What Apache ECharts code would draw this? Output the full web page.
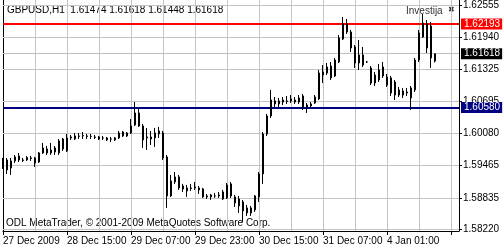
<!DOCTYPE html>
<html><head><meta charset="utf-8">
<script src="https://cdn.jsdelivr.net/npm/echarts@6/dist/echarts.min.js"></script>
<style>html,body{margin:0;padding:0;background:#fff}#c{width:503px;height:250px}</style>
</head><body><div id="c"></div>
<script>
const opens = [1.59528,1.59567,1.59413,1.59548,1.59644,1.59567,1.59567,1.59606,1.59606,1.59528,
1.59702,1.59779,1.59702,1.59799,1.59702,1.59972,1.59741,1.59992,1.59972,1.60021,
1.60030,1.60030,1.60021,1.60011,1.60011,1.59992,1.59992,1.59972,1.59953,1.59992,
1.60107,1.60030,1.60088,1.60242,1.60474,1.60223,1.59992,1.60011,1.59992,1.60069,
1.60088,1.59625,1.58872,1.59142,1.59239,1.59065,1.58969,1.59027,1.59027,1.59027,
1.59007,1.58872,1.58853,1.58872,1.58872,1.58814,1.58834,1.59104,1.58853,1.58814,
1.58756,1.58641,1.58544,1.58602,1.58853,1.59297,1.60069,1.60416,1.60706,1.60648,
1.60686,1.60706,1.60706,1.60725,1.60686,1.60802,1.60590,1.60609,1.60667,1.60744,
1.61207,1.61246,1.61381,1.61497,1.61458,1.61902,1.62192,1.62037,1.61748,1.61439,
1.61593,1.61458,1.61343,1.61207,1.61111,1.61188,1.61169,1.61150,1.61072,1.60821,
1.60821,1.60879,1.60957,1.60918,1.61497,1.61941,1.62192,1.62153,1.61474];
const closes = [1.59432,1.59374,1.59548,1.59625,1.59567,1.59557,1.59615,1.59596,1.59509,1.59702,
1.59799,1.59702,1.59760,1.59721,1.59934,1.59779,1.59992,1.60011,1.60030,1.60030,
1.60040,1.60021,1.60022,1.60001,1.59972,1.59990,1.59953,1.59970,1.59992,1.60088,
1.60030,1.60088,1.60223,1.60474,1.60223,1.59953,1.60011,1.59972,1.60088,1.60127,
1.59606,1.58872,1.59162,1.59239,1.59027,1.59007,1.59027,1.59017,1.59046,1.58988,
1.58853,1.58853,1.58891,1.58870,1.58891,1.58949,1.59084,1.58872,1.58737,1.58679,
1.58583,1.58544,1.58641,1.58872,1.59297,1.60069,1.60416,1.60725,1.60648,1.60706,
1.60725,1.60696,1.60744,1.60686,1.60764,1.60590,1.60628,1.60648,1.60783,1.61246,
1.61265,1.61362,1.61150,1.61188,1.61922,1.62192,1.62037,1.61729,1.61439,1.61593,
1.61400,1.61458,1.61053,1.61053,1.61304,1.61362,1.61014,1.60860,1.60821,1.60918,
1.60899,1.60860,1.60764,1.61497,1.62018,1.62211,1.61729,1.61536,1.61618];
const lows = [1.59393,1.59297,1.59277,1.59509,1.59528,1.59528,1.59548,1.59548,1.59432,1.59509,
1.59683,1.59663,1.59663,1.59663,1.59663,1.59741,1.59721,1.59953,1.59953,1.59972,
1.59972,1.59972,1.59972,1.59972,1.59953,1.59953,1.59934,1.59914,1.59934,1.59972,
1.60011,1.60011,1.60069,1.60223,1.60204,1.59799,1.59760,1.59856,1.59818,1.59992,
1.59567,1.58641,1.58853,1.59104,1.58988,1.58949,1.58853,1.58969,1.58988,1.58911,
1.58834,1.58814,1.58795,1.58834,1.58834,1.58795,1.58814,1.58834,1.58660,1.58544,
1.58370,1.58486,1.58486,1.58563,1.58756,1.59104,1.60030,1.60378,1.60571,1.60590,
1.60628,1.60648,1.60667,1.60648,1.60648,1.60532,1.60474,1.60571,1.60648,1.60725,
1.61053,1.61207,1.61111,1.61169,1.61439,1.61883,1.61999,1.61651,1.61343,1.61304,
1.61362,1.61439,1.61014,1.60995,1.61072,1.61150,1.60976,1.60802,1.60725,1.60783,
1.60764,1.60802,1.60532,1.60879,1.61458,1.61922,1.61632,1.61343,1.61448];
const highs = [1.59606,1.59606,1.59606,1.59663,1.59702,1.59606,1.59644,1.59644,1.59625,1.59721,
1.59895,1.59837,1.59895,1.59837,1.59972,1.59992,1.60069,1.60049,1.60088,1.60088,
1.60107,1.60069,1.60069,1.60049,1.60030,1.60030,1.60011,1.60011,1.60011,1.60127,
1.60127,1.60107,1.60358,1.60686,1.60571,1.60262,1.60185,1.60127,1.60185,1.60204,
1.60127,1.59663,1.59277,1.59335,1.59277,1.59104,1.59084,1.59104,1.59142,1.59065,
1.59027,1.58911,1.58911,1.58930,1.58949,1.58988,1.59123,1.59142,1.58891,1.58872,
1.58795,1.58698,1.58679,1.58891,1.59335,1.60107,1.60455,1.60918,1.60783,1.60764,
1.60783,1.60802,1.60821,1.60783,1.60821,1.60841,1.60667,1.60686,1.60821,1.61304,
1.61400,1.61439,1.61458,1.61536,1.61979,1.62327,1.62288,1.62076,1.61786,1.61883,
1.61748,1.61478,1.61381,1.61265,1.61420,1.61458,1.61227,1.61188,1.61111,1.60976,
1.60957,1.60957,1.60995,1.61536,1.62076,1.62385,1.62269,1.62230,1.61618];

const priceTicks = [1.62555,1.61940,1.61325,1.60695,1.60080,1.59465,1.58835,1.58220];
const xTickLabels = ['27 Dec 2009','28 Dec 15:00','29 Dec 07:00','29 Dec 23:00','30 Dec 15:00','31 Dec 07:00','4 Jan 01:00'];
const resistanceLevel = 1.62193;
const supportLevel = 1.60580;
const lastPrice = 1.61618;
const headerText = 'GBPUSD,H1  1.61474 1.61618 1.61448 1.61618';
const windowTitle = 'Investija';
const copyrightText = 'ODL MetaTrader, \u00a9 2001-2009 MetaQuotes Software Corp.';
const barSlots = 115; // chart shift: empty slots after last bar
const categories = Array.from({length: barSlots}, (_, i) => String(i));

const FONT = 'Liberation Sans';
const candles = opens.map((o, i) => [o, closes[i], lows[i], highs[i]]);

const chart = echarts.init(document.getElementById('c'), null, {renderer: 'canvas'});
const yMin = 1.58195, yMax = 1.62655;
function gridLine() { return {color: '#c4c4c4', type: 'solid', width: 1, opacity: 1}; }

function levelLabel(bg) {
  return {
    show: true, position: 'end', distance: 2,
    formatter: p => Number(p.value).toFixed(5),
    color: '#fff', backgroundColor: bg, fontFamily: FONT, fontSize: 10,
    padding: [1, 2, 0, 3], lineHeight: 10
  };
}

const markItems = priceTicks.map(v => ({
  yAxis: v, lineStyle: gridLine(),
  label: {show: true, position: 'end', formatter: '', color: 'transparent'}
}));
markItems.push({yAxis: lastPrice, lineStyle: {color: '#c0c0c0', width: 1, type: 'solid'}, label: levelLabel('#000')});
markItems.push({yAxis: resistanceLevel, lineStyle: {color: '#ff0000', width: 2, type: 'solid'}, label: levelLabel('#ff0000')});
markItems.push({yAxis: supportLevel, lineStyle: {color: '#000080', width: 2, type: 'solid'}, label: levelLabel('#000080')});

chart.setOption({
  animation: false,
  textStyle: {fontFamily: FONT},
  grid: {left: 3, right: 44, top: 0, bottom: 19, containLabel: false},
  xAxis: {
    type: 'category', data: categories, boundaryGap: false,
    axisLine: {show: true, lineStyle: {color: '#000', width: 1}},
    axisTick: {show: true, interval: (i) => i % 16 === 0, length: 4, lineStyle: {color: '#000'}},
    axisLabel: {
      interval: (i) => i % 16 === 0, align: 'left', margin: 5,
      formatter: (v, i) => xTickLabels[Math.round(i / 16)] || '',
      color: '#000', fontSize: 10, fontFamily: FONT
    },
    splitLine: {show: true, interval: (i) => i % 8 === 0 && i > 0, lineStyle: gridLine()}
  },
  yAxis: [{
    type: 'value', position: 'right', min: yMin, max: yMax, scale: true,
    axisLine: {show: true, lineStyle: {color: '#000'}},
    axisTick: {show: true, customValues: priceTicks, length: 3, lineStyle: {color: '#000'}},
    axisLabel: {customValues: priceTicks, formatter: v => v.toFixed(5), color: '#000', fontSize: 10, fontFamily: FONT, margin: 4},
    splitLine: {show: false}
  }, {
    type: 'value', position: 'left', min: yMin, max: yMax, scale: true,
    axisLine: {show: true, lineStyle: {color: '#000'}},
    axisTick: {show: false}, axisLabel: {show: false}, splitLine: {show: false}
  }],
  series: [{
    type: 'candlestick', data: candles, barWidth: 2, clip: false, z: 3,
    itemStyle: {color: '#fff', color0: '#000', borderColor: '#000', borderColor0: '#000', borderWidth: 1},
    markLine: {
      silent: true, symbol: ['none', 'none'], animation: false, precision: 5, z: 1,
      data: markItems
    }
  }],
  graphic: [
    {type: 'text', left: 7, top: 5, style: {text: headerText, fill: '#000', font: '10px "Liberation Sans"'}},
    {type: 'text', left: 406, top: 6, style: {text: windowTitle, fill: '#333', font: '10px "Liberation Sans"'}},
    {type: 'text', left: 448, top: 6, style: {text: '\u2716', fill: '#333', font: '8px "DejaVu Sans"'}},
    {type: 'text', left: 6, top: 218, style: {text: copyrightText, fill: '#000', font: '10px "Liberation Sans"'}}
  ]
});
</script></body></html>
